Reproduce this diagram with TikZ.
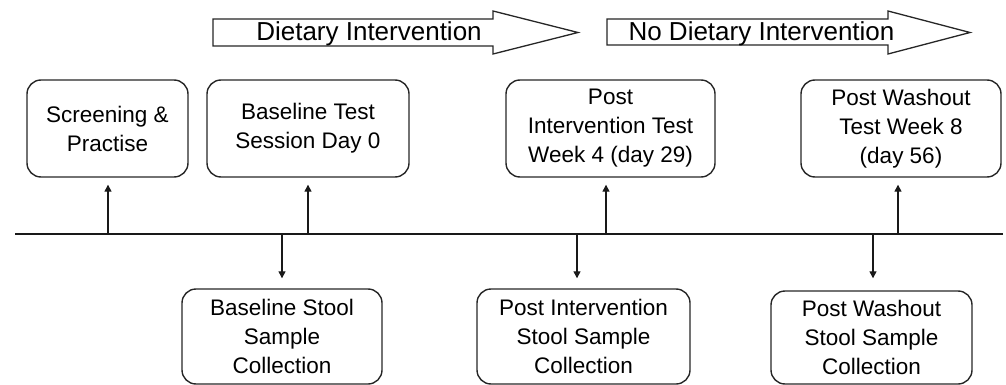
\documentclass[tikz,border=0pt]{standalone}
\usepackage{fontspec}
\setmainfont{Liberation Sans}
\usetikzlibrary{arrows.meta}
\begin{document}
\begin{tikzpicture}[x=1pt,y=-1pt,
  box/.style={draw=black!85, line width=1.4pt, rounded corners=14pt, align=center,
    font=\fontsize{22.5}{29}\selectfont, inner sep=0pt},
  bigarrow/.style={draw=black!85, line width=1.3pt, fill=white, line join=miter},
  arr/.style={line width=1.3pt, draw=black!90, -{Triangle[length=7pt,width=7pt]}},
  lbl/.style={font=\fontsize{26}{30}\selectfont, inner sep=0pt, anchor=base},
  timeline/.style={line width=2pt, draw=black!90}]
\useasboundingbox (0,0) rectangle (1006,385);

% phase arrows
\draw[bigarrow] (213,19) -- (493,19) -- (493,11) -- (578,32.5) -- (493,54) -- (493,46) -- (213,46) -- cycle;
\node[lbl] (a1) at (369,40.5) {Dietary Intervention};
\draw[bigarrow] (607,19) -- (888,19) -- (888,11) -- (970,32.5) -- (888,54) -- (888,45) -- (607,45) -- cycle;
\node[lbl] (a2) at (761.5,40.5) {No Dietary Intervention};

% top boxes
\node[box, minimum width=161pt, minimum height=97pt] (s1) at (107.5,128.5) {Screening \&\\Practise};
\node[box, minimum width=202pt, minimum height=97pt] (s2) at (308,128.5) {Baseline Test\\Session Day 0};
\node[box, minimum width=209pt, minimum height=97pt] (s3) at (610.5,128.5) {Post\\Intervention Test\\Week 4 (day 29)};
\node[box, minimum width=200pt, minimum height=97pt] (s4) at (901,128.5) {Post Washout\\Test Week 8\\(day 56)};

% bottom boxes
\node[box, minimum width=200pt, minimum height=95pt] (b1) at (282,336.5) {Baseline Stool\\Sample\\Collection};
\node[box, minimum width=213pt, minimum height=95pt] (b2) at (583.5,336.5) {Post Intervention\\Stool Sample\\Collection};
\node[box, minimum width=201pt, minimum height=93pt] (b3) at (871.5,337.5) {Post Washout\\Stool Sample\\Collection};

% timeline
\coordinate (L) at (15,234);
\coordinate (R) at (1003,234);
\draw[timeline] (L) -- (R);

\coordinate (u1) at (108,234);
\coordinate (u2) at (308,234);
\coordinate (u3) at (606,234);
\coordinate (u4) at (898,234);
\coordinate (d1) at (282,234);
\coordinate (d2) at (577,234);
\coordinate (d3) at (873,234);

\draw[arr, shorten >=7pt] (u1) -- (u1 |- s1.south);
\draw[arr, shorten >=7pt] (u2) -- (u2 |- s2.south);
\draw[arr, shorten >=7pt] (u3) -- (u3 |- s3.south);
\draw[arr, shorten >=7pt] (u4) -- (u4 |- s4.south);
\draw[arr, shorten >=10pt] (d1) -- (d1 |- b1.north);
\draw[arr, shorten >=10pt] (d2) -- (d2 |- b2.north);
\draw[arr, shorten >=12pt] (d3) -- (d3 |- b3.north);
\end{tikzpicture}
\end{document}
